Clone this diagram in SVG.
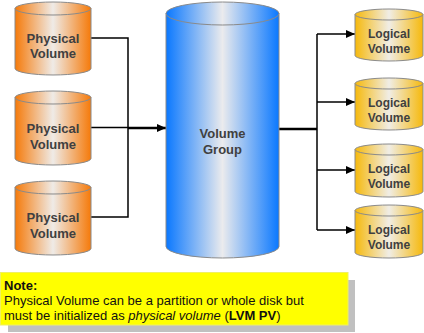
<svg xmlns="http://www.w3.org/2000/svg" width="424" height="333" viewBox="0 0 424 333">
<defs>
<linearGradient id="gOrange" x1="0" y1="0" x2="1" y2="0">
<stop offset="0" stop-color="#f57a0a"/>
<stop offset="0.5" stop-color="#efebe7"/>
<stop offset="1" stop-color="#f57a0a"/>
</linearGradient>
<linearGradient id="gBlue" x1="0" y1="0" x2="1" y2="0">
<stop offset="0" stop-color="#0a78ff"/>
<stop offset="0.5" stop-color="#ebebed"/>
<stop offset="1" stop-color="#0a78ff"/>
</linearGradient>
<linearGradient id="gGold" x1="0" y1="0" x2="1" y2="0">
<stop offset="0" stop-color="#f6b90c"/>
<stop offset="0.5" stop-color="#f0ede6"/>
<stop offset="1" stop-color="#f6b90c"/>
</linearGradient>
<marker id="arr" markerWidth="9" markerHeight="8" refX="9" refY="4" orient="auto" markerUnits="userSpaceOnUse">
<path d="M0,0 L9,4 L0,8 Z" fill="#000"/>
</marker>
</defs>
<style>
.cyl{stroke:#8a8a8a;stroke-width:1}
.lbl{font-family:"Liberation Sans",Arial,sans-serif;font-weight:bold;fill:#404040;text-anchor:middle}
.pv{font-size:13px}
.lv{font-size:12px}
.ln{fill:none;stroke:#000;stroke-width:1.5}
.thick{fill:none;stroke:#000;stroke-width:2.5}
.note{font-family:"Liberation Sans",Arial,sans-serif;font-size:13px;fill:#111}
</style>

<g id="connectors">
<polyline class="ln" points="91,38 128,38 128,217 91,217"/>
<line class="ln" x1="91" y1="127.5" x2="128" y2="127.5"/>
<line class="thick" x1="128" y1="128" x2="166" y2="128" marker-end="url(#arr)"/>
<line class="thick" x1="279" y1="129" x2="317" y2="129"/>
<line class="ln" x1="317" y1="34" x2="317" y2="230"/>
<line class="ln" x1="317" y1="34" x2="355" y2="34" marker-end="url(#arr)"/>
<line class="ln" x1="317" y1="102" x2="355" y2="102" marker-end="url(#arr)"/>
<line class="ln" x1="317" y1="170" x2="355" y2="170" marker-end="url(#arr)"/>
<line class="ln" x1="317" y1="230" x2="355" y2="230" marker-end="url(#arr)"/>
</g>

<g id="pv1">
<path class="cyl" fill="url(#gOrange)" d="M15,8.5 L15,68.5 A38,6.5 0 0 0 91,68.5 L91,8.5 Z"/>
<ellipse class="cyl" fill="url(#gOrange)" cx="53" cy="8.5" rx="38" ry="6.5"/>
<text class="lbl pv" x="53" y="42.5">Physical</text>
<text class="lbl pv" x="53" y="58">Volume</text>
</g>
<g id="pv2">
<path class="cyl" fill="url(#gOrange)" d="M15,97.5 L15,158.5 A38,6.5 0 0 0 91,158.5 L91,97.5 Z"/>
<ellipse class="cyl" fill="url(#gOrange)" cx="53" cy="97.5" rx="38" ry="6.5"/>
<text class="lbl pv" x="53" y="133">Physical</text>
<text class="lbl pv" x="53" y="148.5">Volume</text>
</g>
<g id="pv3">
<path class="cyl" fill="url(#gOrange)" d="M15,187.5 L15,248.5 A38,6.5 0 0 0 91,248.5 L91,187.5 Z"/>
<ellipse class="cyl" fill="url(#gOrange)" cx="53" cy="187.5" rx="38" ry="6.5"/>
<text class="lbl pv" x="53" y="222">Physical</text>
<text class="lbl pv" x="53" y="237.5">Volume</text>
</g>

<g id="vg">
<path class="cyl" fill="url(#gBlue)" d="M166,13.5 L166,246.5 A56.5,11.5 0 0 0 279,246.5 L279,13.5 Z"/>
<ellipse class="cyl" fill="url(#gBlue)" cx="222.5" cy="13.5" rx="56.5" ry="11.5"/>
<text class="lbl pv" x="222.5" y="138">Volume</text>
<text class="lbl pv" x="222.5" y="154">Group</text>
</g>

<g id="lv1">
<path class="cyl" fill="url(#gGold)" d="M355,14.5 L355,55.5 A34,5.5 0 0 0 423,55.5 L423,14.5 Z"/>
<ellipse class="cyl" fill="url(#gGold)" cx="389" cy="14.5" rx="34" ry="5.5"/>
<text class="lbl lv" x="389" y="38">Logical</text>
<text class="lbl lv" x="389" y="53">Volume</text>
</g>
<g id="lv2">
<path class="cyl" fill="url(#gGold)" d="M355,83.5 L355,124.5 A34,5.5 0 0 0 423,124.5 L423,83.5 Z"/>
<ellipse class="cyl" fill="url(#gGold)" cx="389" cy="83.5" rx="34" ry="5.5"/>
<text class="lbl lv" x="389" y="106.5">Logical</text>
<text class="lbl lv" x="389" y="121.5">Volume</text>
</g>
<g id="lv3">
<path class="cyl" fill="url(#gGold)" d="M355,149.5 L355,191.5 A34,5.5 0 0 0 423,191.5 L423,149.5 Z"/>
<ellipse class="cyl" fill="url(#gGold)" cx="389" cy="149.5" rx="34" ry="5.5"/>
<text class="lbl lv" x="389" y="172.5">Logical</text>
<text class="lbl lv" x="389" y="187.5">Volume</text>
</g>
<g id="lv4">
<path class="cyl" fill="url(#gGold)" d="M355,210.5 L355,252.5 A34,5.5 0 0 0 423,252.5 L423,210.5 Z"/>
<ellipse class="cyl" fill="url(#gGold)" cx="389" cy="210.5" rx="34" ry="5.5"/>
<text class="lbl lv" x="389" y="233.5">Logical</text>
<text class="lbl lv" x="389" y="248.5">Volume</text>
</g>

<g id="note">
<rect x="8" y="280" width="347" height="52" fill="#c0c0c0"/>
<rect x="0.5" y="272.5" width="347.5" height="52.5" fill="#ffff00" stroke="#f0f060" stroke-width="1"/>
<text class="note" x="4" y="289.5" font-weight="bold">Note:</text>
<text class="note" x="4" y="304.5">Physical Volume can be a partition or whole disk but</text>
<text class="note" x="4" y="320">must be initialized as <tspan font-style="italic">physical volume</tspan> (<tspan font-weight="bold">LVM PV</tspan>)</text>
</g>
</svg>
